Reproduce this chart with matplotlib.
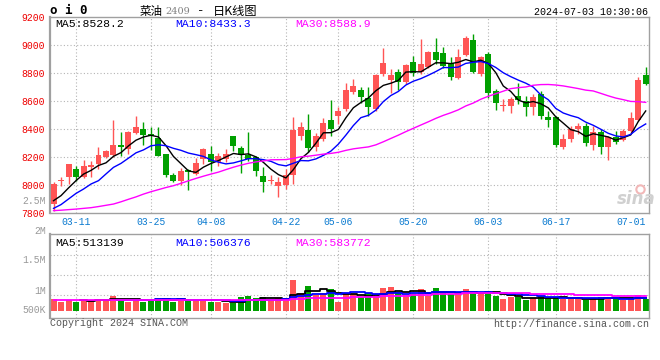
import numpy as np
import pandas as pd
import matplotlib
matplotlib.use('Agg')
import matplotlib.pyplot as plt

# ── data ──────────────────────────────────────────────────────────────────
opens = [7862, 8030, 8055, 8114, 8060, 8130, 8150, 8198, 8214, 8286,
         8257, 8369, 8400, 8364, 8336, 8221, 8074, 8031, 8107, 8079,
         8186, 8221, 8162, 8186, 8348, 8262, 8212, 8198, 8067, 8031,
         7995, 8000, 8074, 8352, 8395, 8274, 8329, 8464, 8495, 8543,
         8667, 8679, 8621, 8543, 8793, 8750, 8810, 8738, 8876, 8810,
         8840, 8952, 8943, 8869, 8764, 8929, 9036, 8793, 8936, 8669,
         8567, 8567, 8633, 8598, 8555, 8650, 8483, 8483, 8269, 8329,
         8400, 8421, 8288, 8376, 8274, 8340, 8321, 8388, 8464, 8786]
highs = [8024, 8055, 8152, 8138, 8181, 8174, 8269, 8252, 8464, 8376,
         8383, 8493, 8450, 8412, 8412, 8225, 8083, 8121, 8114, 8193,
         8264, 8281, 8226, 8257, 8352, 8281, 8376, 8210, 8126, 8074,
         8060, 8114, 8483, 8448, 8507, 8369, 8479, 8607, 8555, 8726,
         8757, 8702, 8702, 8790, 8979, 8829, 8829, 8864, 8924, 9043,
         8955, 9050, 8983, 8912, 8971, 9062, 9079, 8924, 8948, 8686,
         8614, 8626, 8726, 8638, 8650, 8669, 8526, 8490, 8364, 8424,
         8443, 8443, 8419, 8400, 8352, 8388, 8400, 8524, 8769, 8840]
lows = [7817, 7995, 8005, 8031, 8050, 8055, 8114, 8193, 8198, 8210,
        8221, 8364, 8288, 8250, 8205, 8055, 8019, 8002, 7967, 8074,
        8150, 8102, 8138, 8162, 8240, 8083, 8174, 8067, 7948, 8007,
        7912, 7971, 8007, 8321, 8233, 8240, 8317, 8352, 8436, 8531,
        8650, 8583, 8495, 8526, 8781, 8655, 8679, 8721, 8781, 8793,
        8833, 8864, 8836, 8752, 8757, 8924, 8798, 8781, 8621, 8536,
        8531, 8514, 8579, 8490, 8502, 8471, 8417, 8269, 8257, 8305,
        8364, 8281, 8250, 8221, 8179, 8293, 8317, 8369, 8460, 8717]
closes = [8007, 8038, 8150, 8055, 8138, 8140, 8214, 8245, 8286, 8271,
          8381, 8417, 8360, 8348, 8210, 8071, 8031, 8102, 8090, 8157,
          8257, 8162, 8205, 8221, 8281, 8217, 8188, 8098, 8024, 8038,
          8024, 8069, 8395, 8412, 8262, 8352, 8443, 8400, 8526, 8679,
          8710, 8631, 8560, 8786, 8871, 8786, 8733, 8857, 8800, 8864,
          8952, 8893, 8852, 8774, 8912, 9050, 8810, 8912, 8657, 8583,
          8574, 8614, 8607, 8555, 8631, 8495, 8467, 8288, 8329, 8398,
          8424, 8298, 8381, 8274, 8340, 8309, 8388, 8476, 8750, 8721]
volumes = [476e3, 366e3, 435e3, 366e3, 435e3, 435e3, 476e3, 435e3, 598e3, 448e3,
           366e3, 476e3, 366e3, 476e3, 517e3, 517e3, 366e3, 435e3, 435e3, 476e3,
           435e3, 366e3, 366e3, 297e3, 297e3, 541e3, 598e3, 517e3, 558e3, 435e3,
           517e3, 435e3, 1249e3, 733e3, 1005e3, 639e3, 733e3, 883e3, 366e3, 720e3,
           680e3, 541e3, 720e3, 611e3, 924e3, 965e3, 745e3, 651e3, 684e3, 883e3,
           598e3, 924e3, 720e3, 680e3, 680e3, 883e3, 761e3, 680e3, 802e3, 598e3,
           476e3, 541e3, 558e3, 435e3, 517e3, 598e3, 558e3, 558e3, 476e3, 476e3,
           476e3, 435e3, 517e3, 558e3, 517e3, 476e3, 435e3, 517e3, 639e3, 476e3]

# moving-average values at the left edge (they rely on days before the window)
ma5_head = [7888, 7924, 7979, 8031]
ma10_head = [7833, 7860, 7900, 7940, 7971, 8007, 8031, 8079, 8126]
ma30_head = [7817, 7820, 7824, 7828, 7833, 7838, 7846, 7855, 7864, 7880,
             7898, 7915, 7935, 7952, 7967, 7982, 7995, 8012, 8030, 8047,
             8063, 8078, 8092, 8110, 8127, 8142, 8155, 8165, 8172]
vma30_head = [420e3, 420e3, 422e3, 424e3, 425e3, 426e3, 428e3, 430e3, 432e3, 432e3,
              433e3, 434e3, 434e3, 435e3, 436e3, 437e3, 437e3, 438e3, 438e3, 439e3,
              440e3, 440e3, 440e3, 440e3, 441e3, 441e3, 442e3, 442e3, 443e3]

tick_pos = [3, 13, 21, 31, 38, 48, 58, 67, 77]
tick_labels = ['03-11', '03-25', '04-08', '04-22', '05-06',
               '05-20', '06-03', '06-17', '07-01']
price_ticks = [7800, 8000, 8200, 8400, 8600, 8800, 9000, 9200]

# ── derived series ────────────────────────────────────────────────────────
df = pd.DataFrame({'open': opens, 'high': highs, 'low': lows,
                   'close': closes, 'vol': volumes})
n = len(df)
x = np.arange(n)


def with_head(series, window, head):
    ma = series.rolling(window).mean().to_numpy()
    ma[:len(head)] = head
    return ma


ma5 = with_head(df['close'], 5, ma5_head)
ma10 = with_head(df['close'], 10, ma10_head)
ma30 = with_head(df['close'], 30, ma30_head)
vma5 = df['vol'].rolling(5).mean().to_numpy()
vma10 = df['vol'].rolling(10).mean().to_numpy()
vma30 = with_head(df['vol'], 30, vma30_head)

RED = '#ff5555'
GREEN = '#00a000'
GRID = '#b4b4b4'
FRAME = '#a0a0a0'
MONO = 'Liberation Mono'
CJK = ['Noto Sans CJK SC', 'DejaVu Sans']

W, H = 660, 360
fig = plt.figure(figsize=(6.6, 3.6), dpi=100)
fig.patch.set_facecolor('white')


def px_axes(left, top, right, bottom):
    return fig.add_axes([left / W, 1 - bottom / H, (right - left) / W, (bottom - top) / H])


ax = px_axes(50, 17, 649, 213)
axv = px_axes(50, 234.3, 649, 318.3)

up = df['close'] >= df['open']
colors = np.where(up, RED, GREEN)
body_lo = np.minimum(df['open'], df['close'])
body_h = np.maximum(np.abs(df['close'] - df['open']), 7)

# ── price panel ───────────────────────────────────────────────────────────
ax.vlines(x, df['low'], df['high'], colors=colors, linewidth=1, zorder=2)
ax.bar(x, body_h, bottom=body_lo, width=0.8, color=colors, linewidth=0, zorder=3)
ax.plot(x, ma5, color='black', lw=1, zorder=4)
ax.plot(x, ma10, color='#0000ff', lw=1, zorder=4)
ax.plot(x, ma30, color='#ff00ff', lw=1, zorder=4)

ax.set_xlim(-0.47, 79.44)
ax.set_ylim(7800, 9200)
ax.set_yticks(price_ticks)
ax.set_yticklabels([str(v) for v in price_ticks])
ax.set_xticks(tick_pos)
ax.set_xticklabels(tick_labels)
ax.tick_params(axis='y', length=0, pad=4, labelsize=7, labelcolor='#ee0000')
ax.tick_params(axis='x', length=0, pad=3, labelsize=7, labelcolor='#0a7ad0')
for lab in ax.get_xticklabels() + ax.get_yticklabels():
    lab.set_fontfamily(MONO)

for v in price_ticks[1:-1]:
    ax.axhline(v, color=GRID, lw=0.8, ls=(0, (1, 2)), zorder=1)
for p in tick_pos[:-1]:
    ax.axvline(p, color=GRID, lw=0.8, ls=(0, (1, 2)), zorder=1)

for s in ax.spines.values():
    s.set_color(FRAME)
    s.set_linewidth(1)
ax.spines['left'].set_linewidth(1.6)

ax.text(5 / 599, 0.965, 'MA5:8528.2', transform=ax.transAxes, family=MONO,
        fontsize=8.2, color='black', va='center')
ax.text(125 / 599, 0.965, 'MA10:8433.3', transform=ax.transAxes, family=MONO,
        fontsize=8.2, color='#0000ff', va='center')
ax.text(245 / 599, 0.965, 'MA30:8588.9', transform=ax.transAxes, family=MONO,
        fontsize=8.2, color='#ff00ff', va='center')

# sina watermark
ax.text(0.978, 0.07, 'sina', transform=ax.transAxes, fontsize=12,
        fontweight='bold', style='italic', color='#d0d0d0', ha='center', va='center')
ax.plot([0.985], [0.125], 'o', transform=ax.transAxes, ms=6, mfc='none',
        mec='#f2b8b8', mew=1.5)

# ── volume panel ──────────────────────────────────────────────────────────
axv.bar(x, df['vol'], width=0.8, color=colors, linewidth=0, zorder=2)
axv.plot(x, vma5, color='black', lw=1.3, drawstyle='steps-mid', zorder=3)
axv.plot(x, vma10, color='#0000ff', lw=1.3, drawstyle='steps-mid', zorder=3)
axv.plot(x, vma30, color='#ff00ff', lw=1.3, drawstyle='steps-mid', zorder=3)
axv.set_xlim(-0.47, 79.44)
axv.set_ylim(-309e3, 3.109e6)
axv.set_xticks([])
axv.set_yticks([])
for f in [0.754, 0.516, 0.278]:
    axv.plot([0, 1], [f, f], transform=axv.transAxes, color=GRID, lw=0.8,
             ls=(0, (1, 2)), zorder=1)
for p in tick_pos[:-1]:
    axv.axvline(p, color=GRID, lw=0.8, ls=(0, (1, 2)), zorder=1)
for s in axv.spines.values():
    s.set_color(FRAME)
    s.set_linewidth(1)
axv.spines['left'].set_linewidth(1.6)

for lab, f in [('2.5M', 1.396), ('2M', 1.039), ('1.5M', 0.694), ('1M', 0.325), ('500K', 0.099)]:
    axv.text(-4 / 599, f, lab, transform=axv.transAxes, ha='right', va='center',
             family=MONO, fontsize=7, color='#999999', clip_on=False)

axv.text(5 / 599, 0.9, 'MA5:513139', transform=axv.transAxes, family=MONO,
         fontsize=8.2, color='black', va='center')
axv.text(125 / 599, 0.9, 'MA10:506376', transform=axv.transAxes, family=MONO,
         fontsize=8.2, color='#0000ff', va='center')
axv.text(245 / 599, 0.9, 'MA30:583772', transform=axv.transAxes, family=MONO,
         fontsize=8.2, color='#ff00ff', va='center')

# ── header / footer texts ─────────────────────────────────────────────────
def ftext(px, py, s, **kw):
    fig.text(px / W, 1 - py / H, s, **kw)


ftext(50, 11, 'o i 0', family='DejaVu Sans Mono', fontweight='bold', fontsize=9,
      va='center', color='black')
ftext(140, 11, '菜油', family=CJK, fontsize=8.3, va='center', color='black')
ftext(165, 11.5, '2409', family='DejaVu Serif', fontsize=7, va='center', color='#808080')
ftext(197, 11, '-', family=MONO, fontsize=9, va='center', color='black')
ftext(213, 11, '日K线图', family=CJK, fontsize=8.8, va='center', color='black')
ftext(648, 12, '2024-07-03 10:30:06', family=MONO, fontsize=7.2, ha='right',
      va='center', color='black')
ftext(50, 323.5, 'Copyright 2024 SINA.COM', family=MONO, fontsize=7.2,
      va='center', color='#555555')
ftext(649, 324, 'http://finance.sina.com.cn', family=MONO, fontsize=7.2,
      ha='right', va='center', color='#555555')

fig.savefig('out.png', dpi=100, facecolor='white')
